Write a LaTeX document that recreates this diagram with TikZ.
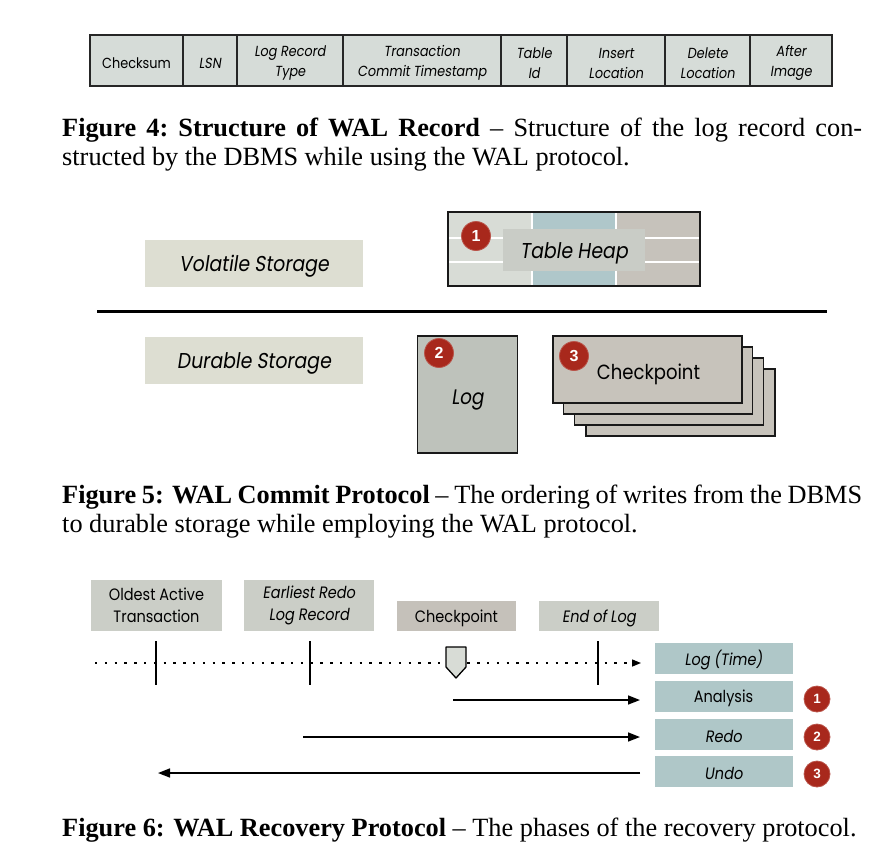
\documentclass[tikz,border=0pt]{standalone}
\usepackage{fontspec}
\setmainfont{Liberation Serif}
\newfontfamily\fut[FakeStretch=0.88]{Poppins}
\newfontfamily\futo[FakeStretch=0.88,FakeSlant=0.15]{Poppins}
\newfontfamily\badgefont{Liberation Sans}
\usetikzlibrary{arrows.meta,shapes.geometric}
\newcommand\lowertxt[2]{\raisebox{-#1}[\height][\depth]{#2}}
\definecolor{cellc}{HTML}{D6DCD8}
\definecolor{paleg}{HTML}{DDDED2}
\definecolor{heapL}{HTML}{D8DCD6}
\definecolor{heapM}{HTML}{AFC7CA}
\definecolor{heapR}{HTML}{C6C2BB}
\definecolor{heapLab}{HTML}{C9CCC6}
\definecolor{logc}{HTML}{BEC2BB}
\definecolor{ckc}{HTML}{C7C3BB}
\definecolor{labg}{HTML}{CBCEC7}
\definecolor{labw}{HTML}{C5C1BA}
\definecolor{bluec}{HTML}{AFC7C8}
\definecolor{redc}{HTML}{A8281C}
\definecolor{markc}{HTML}{D8DCD6}
\tikzset{
  cellbox/.style={draw=black!85, line width=1.4pt, fill=cellc, inner sep=0pt, minimum height=51pt},
  cellt/.style={inner sep=0pt, align=center, yshift=-2.5pt, font=\futo\fontsize{14.6}{20}\selectfont},
  cellu/.style={cellt, font=\fut\fontsize{14.6}{20}\selectfont},
  palebox/.style={fill=paleg, inner sep=0pt, minimum width=218pt, minimum height=47pt,
    font=\futo\fontsize{21.5}{24}\selectfont},
  card/.style={draw=black!90, line width=1.6pt, fill=ckc, minimum width=189pt, minimum height=67pt, inner sep=0pt},
  badge/.style={circle, fill=redc, draw=redc!80!white, line width=0.8pt, text=white, inner sep=0pt,
    minimum size=29pt, font=\badgefont\bfseries\fontsize{16}{16}\selectfont},
  badgesm/.style={badge, minimum size=26pt, font=\badgefont\bfseries\fontsize{13.5}{13.5}\selectfont},
  lab/.style={fill=labg, inner sep=0pt, align=center, font=\futo\fontsize{16.5}{21.5}\selectfont},
  phase/.style={fill=bluec, inner sep=0pt, minimum width=138pt, minimum height=31pt,
    font=\futo\fontsize{16.5}{18}\selectfont},
  arr/.style={line width=1.5pt, -{Triangle[length=12pt,width=9pt]}},
  tick/.style={line width=1.5pt},
  capt/.style={inner sep=0pt, anchor=base west, font=\fontsize{26.3}{29}\selectfont}
}
\begin{document}
\begin{tikzpicture}[x=1pt,y=-1pt]
\useasboundingbox (0,0) rectangle (886,852);
\fill[white] (0,0) rectangle (886,852);
% ---------- Figure 4 ----------
\node[cellbox, minimum width=93pt, label={[cellu]center:Checksum}] (c1) at (136.5,60.5) {};
\node[cellbox, minimum width=54pt, label={[cellt]center:LSN}] (c2) at (210,60.5) {};
\node[cellbox, minimum width=106pt, label={[cellt]center:Log Record\\Type}] (c3) at (290,60.5) {};
\node[cellbox, minimum width=158pt, label={[cellt]center:Transaction\\Commit Timestamp}] (c4) at (422,60.5) {};
\node[cellbox, minimum width=66pt, label={[cellt]center:Table\\Id}] (c5) at (534,60.5) {};
\node[cellbox, minimum width=98pt, label={[cellt]center:Insert\\Location}] (c6) at (616,60.5) {};
\node[cellbox, minimum width=85pt, label={[cellt]center:Delete\\Location}] (c7) at (707.5,60.5) {};
\node[cellbox, minimum width=82pt, label={[cellt]center:After\\Image}] (c8) at (791,60.5) {};
\node[capt] (cap4a) at (62,136) {\makebox[800pt][s]{\textbf{Figure 4:\ Structure of WAL Record} -- Structure of the log record con-}};
\node[capt] (cap4b) at (62,165) {structed by the DBMS while using the WAL protocol.};
% ---------- Figure 5 ----------
\node[palebox] (vol) at (254,263.5) {\lowertxt{3pt}{Volatile Storage}};
\node[palebox] (dur) at (254,360.5) {\lowertxt{3pt}{Durable Storage}};
\fill[heapL] (448,212) rectangle (532,286);
\fill[heapM] (532,212) rectangle (616,286);
\fill[heapR] (616,212) rectangle (700,286);
\draw[white, line width=1.3pt] (448,238) -- (700,238);
\draw[white, line width=1.3pt] (448,262) -- (700,262);
\draw[white, line width=1.3pt] (532,212) -- (532,286);
\draw[white, line width=1.3pt] (616,212) -- (616,286);
\node[fill=heapLab, minimum width=142pt, minimum height=42pt, inner sep=0pt,
  font=\futo\fontsize{21.5}{24}\selectfont] (heaplab) at (574,250) {\lowertxt{3pt}{Table Heap}};
\node[draw=black!90, line width=1.8pt, minimum width=252pt, minimum height=74pt, inner sep=0pt] (heap) at (574,249) {};
\node[badge] (b1) at (476,236) {1};
\draw[line width=3pt] (97,311) -- (827,311);
\node[draw=black!90, line width=1.6pt, fill=logc, minimum width=100pt, minimum height=117pt, inner sep=0pt,
  font=\futo\fontsize{21}{24}\selectfont] (log) at (467.5,394.5) {\lowertxt{6pt}{Log}};
\node[badge] (b2) at (439,353) {2};
\node[card] (ck4) at (680.5,402.5) {};
\node[card] (ck3) at (669,391.5) {};
\node[card] (ck2) at (658,380.5) {};
\node[card, font=\fut\fontsize{20.5}{23}\selectfont] (ck1) at (647.5,369.5) {\hspace*{2pt}\lowertxt{5pt}{Checkpoint}};
\node[badge] (b3) at (574,356) {3};
\node[capt] (cap5a) at (62,503) {\makebox[800pt][s]{\textbf{Figure 5: WAL Commit Protocol} -- The ordering of writes from the DBMS}};
\node[capt] (cap5b) at (62,532) {to durable storage while employing the WAL protocol.};
% ---------- Figure 6 ----------
\node[lab, minimum width=131pt, minimum height=51pt, font=\fut\fontsize{16.5}{21.5}\selectfont] (oldest) at (156.5,605.5) {Oldest Active\\Transaction};
\node[lab, minimum width=130pt, minimum height=51pt] (earliest) at (309,605.5) {Earliest Redo\\Log Record};
\node[lab, fill=labw, minimum width=119pt, minimum height=30pt, font=\fut\fontsize{16.5}{18}\selectfont] (ckp) at (456.5,616) {\lowertxt{2.5pt}{Checkpoint}};
\node[lab, minimum width=120pt, minimum height=30pt] (eol) at (599,616) {\lowertxt{2.5pt}{End of Log}};
\coordinate (t0) at (95,663);
\coordinate (t1) at (641,663);
\draw[line width=1.4pt, dash pattern=on 2.4pt off 7.4pt, -{Triangle[length=9pt,width=7pt]}] (t0) -- (t1);
\draw[tick] (156,641) -- (156,685);
\draw[tick] (310,641) -- (310,685);
\draw[tick] (598,641) -- (598,685);
\draw[line width=1.3pt, fill=markc, line join=round] (446,647) -- (466,647) -- (466,667) -- (456,678) -- (446,667) -- cycle;
\node[phase] (ltime) at (723.5,658.5) {\lowertxt{2pt}{Log (Time)}};
\node[phase, font=\fut\fontsize{16.5}{18}\selectfont] (ana) at (723.5,696.5) {\lowertxt{2pt}{Analysis}};
\node[phase] (redo) at (723.5,734) {\lowertxt{2pt}{Redo}};
\node[phase] (undo) at (723.5,771.5) {\lowertxt{2pt}{Undo}};
\node[badgesm] (r1) at (817,699) {1};
\node[badgesm] (r2) at (817,737) {2};
\node[badgesm] (r3) at (817,774) {3};
\coordinate (aS) at (453,700);
\coordinate (aE) at (640,700);
\coordinate (rS) at (303,737);
\coordinate (rE) at (640,737);
\coordinate (uS) at (640,773);
\coordinate (uE) at (158,773);
\draw[arr] (aS) -- (aE);
\draw[arr] (rS) -- (rE);
\draw[arr] (uS) -- (uE);
\node[capt] (cap6) at (62,836) {\textbf{Figure 6: WAL Recovery Protocol} -- The phases of the recovery protocol.};
\end{tikzpicture}
\end{document}
